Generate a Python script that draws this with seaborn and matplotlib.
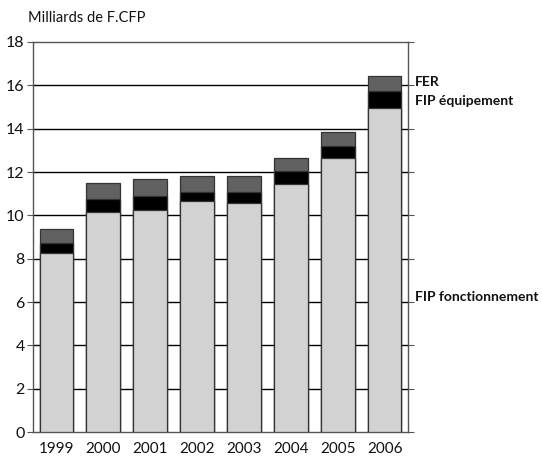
import numpy as np
import pandas as pd
import seaborn as sns
import matplotlib.pyplot as plt

years = ['1999', '2000', '2001', '2002', '2003', '2004', '2005', '2006']
fip_fonct = [8.25, 10.15, 10.23, 10.65, 10.55, 11.44, 12.63, 14.97]
fip_equip = [0.49, 0.59, 0.66, 0.43, 0.54, 0.62, 0.55, 0.78]
fer = [0.61, 0.74, 0.77, 0.73, 0.72, 0.60, 0.66, 0.69]

df = pd.DataFrame({'annee': years, 'fonct': fip_fonct, 'equip': fip_equip, 'fer': fer})
df['cum_equip'] = df['fonct'] + df['equip']
df['cum_fer'] = df['cum_equip'] + df['fer']

sns.set_style('white')
plt.rcParams['font.family'] = ['Lato', 'DejaVu Sans']

fig = plt.figure(figsize=(5.42, 4.59), dpi=100)
ax = fig.add_axes([0.0609, 0.0588, 0.6919, 0.8497])

for y in range(2, 18, 2):
    ax.axhline(y, color='black', lw=1.0, zorder=0)

edge = '#333333'
sns.barplot(data=df, x='annee', y='cum_fer', color='#616161', width=0.72,
            edgecolor=edge, linewidth=0.9, saturation=1, ax=ax, zorder=2)
sns.barplot(data=df, x='annee', y='cum_equip', color='#000000', width=0.72,
            edgecolor=edge, linewidth=0.9, saturation=1, ax=ax, zorder=3)
sns.barplot(data=df, x='annee', y='fonct', color='#d2d2d2', width=0.72,
            edgecolor=edge, linewidth=0.9, saturation=1, ax=ax, zorder=4)

ax.set_xlim(-0.5, 7.5)
ax.set_ylim(0, 18)
ax.set_yticks(range(0, 19, 2))
ax.set_xlabel('')
ax.set_ylabel('')
for s in ax.spines.values():
    s.set_color('#555555')
    s.set_linewidth(1.0)
ax.tick_params(axis='y', which='both', left=True, right=True, direction='out',
               length=4, color='#555555', labelsize=11.5, pad=2, labelcolor='#111111')
ax.tick_params(axis='x', bottom=False, labelsize=11, pad=4, labelcolor='#111111')

fig.text(28 / 542, 1 - 18 / 459, 'Milliards de F.CFP', fontsize=10.5, va='center', ha='left',
         color='#111111')
lab_x = 415 / 542
for txt, ypix in [('FER', 82), ('FIP équipement', 101), ('FIP fonctionnement', 297)]:
    fig.text(lab_x, 1 - ypix / 459, txt, fontsize=10, va='center', ha='left',
             weight='bold', color='#111111')

fig.savefig('out.png', dpi=100)
